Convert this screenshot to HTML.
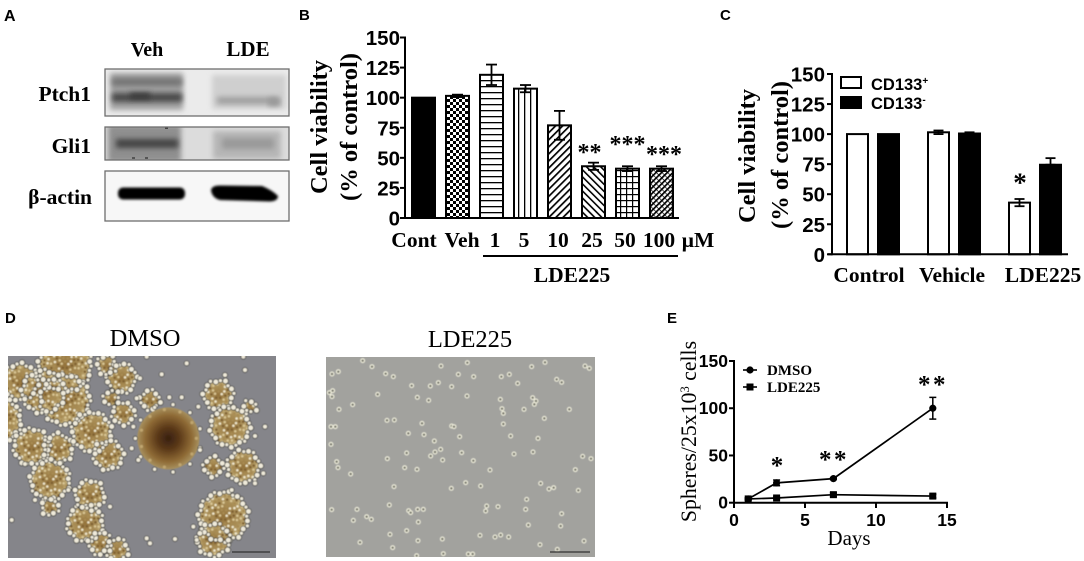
<!DOCTYPE html>
<html lang="en">
<head>
<meta charset="utf-8">
<title>LDE225 figure</title>
<style>
html,body{margin:0;padding:0;background:#fff;width:1084px;height:561px;overflow:hidden}
svg{display:block}
.serif{font-family:"Liberation Serif",serif}
.sans{font-family:"Liberation Sans",sans-serif}
.sb{font-family:"Liberation Serif","Noto Sans CJK SC",serif;font-weight:bold;fill:#000}
.ss{font-family:"Liberation Sans",sans-serif;font-weight:bold;fill:#000}
</style>
</head>
<body>
<svg id="fig" xmlns="http://www.w3.org/2000/svg" width="1084" height="561" viewBox="0 0 1084 561">
<defs>
<filter id="b1" x="-20%" y="-80%" width="140%" height="260%"><feGaussianBlur stdDeviation="2.6"/></filter>
<filter id="b0" x="-20%" y="-80%" width="140%" height="260%"><feGaussianBlur stdDeviation="1.3"/></filter>
<filter id="b3" x="-5%" y="-5%" width="110%" height="110%"><feGaussianBlur stdDeviation="0.4"/></filter>
<clipPath id="c1"><rect x="105" y="69" width="184" height="47"/></clipPath>
<clipPath id="c2"><rect x="105" y="127" width="184" height="33"/></clipPath>
<clipPath id="c3"><rect x="105" y="171" width="184" height="50"/></clipPath>
<clipPath id="cd"><rect x="8" y="356" width="268" height="202"/></clipPath>
<clipPath id="cl"><rect x="326" y="357" width="269" height="200"/></clipPath>
<radialGradient id="gBig"><stop offset="0" stop-color="#38200f"/><stop offset=".35" stop-color="#5a3818"/><stop offset=".75" stop-color="#8e6a35"/><stop offset="1" stop-color="#a8915f"/></radialGradient>
<radialGradient id="gClump"><stop offset="0" stop-color="#94733c"/><stop offset=".7" stop-color="#ab915a"/><stop offset="1" stop-color="#c2ad78"/></radialGradient>
<pattern id="pCheck" width="6" height="6" patternUnits="userSpaceOnUse"><rect width="6" height="6" fill="#fff"/><rect width="3" height="3" fill="#000"/><rect x="3" y="3" width="3" height="3" fill="#000"/></pattern>
<pattern id="pH" width="6" height="6" patternUnits="userSpaceOnUse"><rect width="6" height="6" fill="#fff"/><rect y="2" width="6" height="1.3" fill="#000"/></pattern>
<pattern id="pV" width="6" height="6" patternUnits="userSpaceOnUse"><rect width="6" height="6" fill="#fff"/><rect x="2" width="1.3" height="6" fill="#000"/></pattern>
<pattern id="pD1" width="5" height="5" patternUnits="userSpaceOnUse" patternTransform="rotate(45)"><rect width="5" height="5" fill="#fff"/><rect x="1" width="1.7" height="5" fill="#000"/></pattern>
<pattern id="pD2" width="5" height="5" patternUnits="userSpaceOnUse" patternTransform="rotate(-45)"><rect width="5" height="5" fill="#fff"/><rect x="1" width="1.6" height="5" fill="#000"/></pattern>
<pattern id="pG" width="6" height="6" patternUnits="userSpaceOnUse"><rect width="6" height="6" fill="#fff"/><rect x="2" width="1.2" height="6" fill="#000"/><rect y="2" width="6" height="1.2" fill="#000"/></pattern>
<pattern id="pD3" width="4" height="4" patternUnits="userSpaceOnUse" patternTransform="rotate(45)"><rect width="4" height="4" fill="#fff"/><rect x="1" width="1.7" height="4" fill="#000"/><rect y="1.5" width="4" height="0.7" fill="#000"/></pattern>
</defs>

<rect width="1084" height="561" fill="#fff"/>

<!-- panel letters -->
<text class="ss" x="4" y="21" font-size="16">A</text>
<text class="ss" x="299" y="20" font-size="15">B</text>
<text class="ss" x="720" y="20" font-size="15">C</text>
<text class="ss" x="5" y="323" font-size="15">D</text>
<text class="ss" x="667" y="323" font-size="15">E</text>

<!-- Panel A -->
<g>
<text class="sb" x="147" y="56" font-size="20" text-anchor="middle">Veh</text>
<text class="sb" x="248" y="56" font-size="21" text-anchor="middle">LDE</text>
<text class="sb" x="91" y="101" font-size="21.5" text-anchor="end">Ptch1</text>
<text class="sb" x="91" y="153" font-size="21.5" text-anchor="end">Gli1</text>
<text class="sb" x="92" y="204" font-size="21.5" text-anchor="end">β-actin</text>

<g clip-path="url(#c1)">
<rect x="105" y="69" width="184" height="47" fill="#ebebeb"/>
<rect x="110" y="73" width="73" height="37" fill="#a2a2a2" filter="url(#b1)"/>
<rect x="212" y="75" width="74" height="34" fill="#cfcfcf" filter="url(#b1)"/>
<rect x="112" y="78" width="70" height="8" fill="#757575" filter="url(#b1)"/>
<rect x="112" y="93" width="70" height="9" fill="#4a4a4a" filter="url(#b1)"/>
<rect x="130" y="93" width="20" height="6" fill="#3a3a3a" filter="url(#b1)"/>
<rect x="217" y="97" width="62" height="7" fill="#9e9e9e" filter="url(#b1)"/>
<rect x="268" y="98" width="12" height="8" fill="#999" filter="url(#b1)"/>
</g>
<rect x="105" y="69" width="184" height="47" fill="none" stroke="#6e6e6e" stroke-width="1.3"/>

<g clip-path="url(#c2)">
<rect x="105" y="127" width="184" height="33" fill="#dcdcdc"/>
<rect x="108" y="125" width="73" height="37" fill="#8f8f8f" filter="url(#b1)"/>
<rect x="213" y="131" width="68" height="28" fill="#b6b6b6" filter="url(#b1)"/>
<rect x="116" y="139" width="62" height="9" fill="#444" filter="url(#b1)"/>
<rect x="222" y="138" width="52" height="11" fill="#9a9a9a" filter="url(#b1)"/>
<rect x="165" y="127" width="3" height="2" fill="#444"/>
<rect x="132" y="157" width="3" height="2" fill="#555"/>
<rect x="145" y="157" width="3" height="2" fill="#555"/>
</g>
<rect x="105" y="127" width="184" height="33" fill="none" stroke="#6e6e6e" stroke-width="1.3"/>

<g clip-path="url(#c3)">
<rect x="105" y="171" width="184" height="50" fill="#f7f7f7"/>
<rect x="118" y="187.5" width="67" height="12" rx="5" fill="#000" filter="url(#b0)"/>
<path d="M211 190 Q212 185.5 220 185.5 L262 186 Q272 190 278 196 Q278 201 270 201.5 L220 200 Q212 198 211 190Z" fill="#000" filter="url(#b0)"/>
</g>
<rect x="105" y="171" width="184" height="50" fill="none" stroke="#6e6e6e" stroke-width="1.3"/>
</g>

<!-- Panel B -->
<g id="chartB">
<text class="sb" transform="translate(327,127) rotate(-90)" font-size="24.5" text-anchor="middle">Cell viability</text>
<text class="sb" transform="translate(357,127) rotate(-90)" font-size="24.5" text-anchor="middle">(% of control)</text>
<text class="sb" x="414" y="247" font-size="21.5" text-anchor="middle">Cont</text>
<text class="sb" x="462" y="247" font-size="21.5" text-anchor="middle">Veh</text>
<text class="sb" x="495" y="247" font-size="21.5" text-anchor="middle">1</text>
<text class="sb" x="524" y="247" font-size="21.5" text-anchor="middle">5</text>
<text class="sb" x="558" y="247" font-size="21.5" text-anchor="middle">10</text>
<text class="sb" x="592" y="247" font-size="21.5" text-anchor="middle">25</text>
<text class="sb" x="625" y="247" font-size="21.5" text-anchor="middle">50</text>
<text class="sb" x="659" y="247" font-size="21.5" text-anchor="middle">100</text>
<text class="sb" x="698" y="247" font-size="21.5" text-anchor="middle">μM</text>
<line x1="483" y1="256" x2="678" y2="256" stroke="#000" stroke-width="2"/>
<text class="sb" x="572" y="282" font-size="21.5" text-anchor="middle">LDE225</text>
</g>

<!-- Panel C -->
<g id="chartC">
<text class="sb" transform="translate(755,156) rotate(-90)" font-size="24.5" text-anchor="middle">Cell viability</text>
<text class="sb" transform="translate(788,155) rotate(-90)" font-size="24.5" text-anchor="middle">(% of control)</text>
<text class="sb" x="869" y="282" font-size="21.5" text-anchor="middle">Control</text>
<text class="sb" x="952" y="282" font-size="21.5" text-anchor="middle">Vehicle</text>
<text class="sb" x="1043" y="282" font-size="21.5" text-anchor="middle">LDE225</text>
<g>
<rect x="841" y="77" width="20" height="11" fill="#fff" stroke="#000" stroke-width="2"/>
<text class="ss" x="871" y="90" font-size="16.5">CD133<tspan font-size="10" dy="-6">+</tspan></text>
<rect x="840" y="96" width="22" height="13" fill="#000"/>
<text class="ss" x="871" y="109" font-size="16.5">CD133<tspan font-size="10" dy="-6">-</tspan></text>
</g>
</g>

<!-- Panel D -->
<g>
<text class="serif" x="145" y="346" font-size="24.5" text-anchor="middle" fill="#000">DMSO</text>
<text class="serif" x="470" y="347" font-size="24.5" text-anchor="middle" fill="#000">LDE225</text>
<g clip-path="url(#cd)"><rect x="8" y="356" width="268" height="202" fill="#85858a"/><g id="dmsoCells" filter="url(#b3)"></g>
<line x1="232" y1="552" x2="270" y2="552" stroke="#333" stroke-width="1.2"/></g>
<g clip-path="url(#cl)"><rect x="326" y="357" width="269" height="200" fill="#a2a29e"/><g id="ldeCells" filter="url(#b3)"></g>
<line x1="550" y1="552" x2="590" y2="552" stroke="#333" stroke-width="1.2"/></g>
</g>

<!-- Panel E -->
<g id="chartE">
<text class="serif" transform="translate(696,431.5) rotate(-90)" font-size="21.8" text-anchor="middle" fill="#000">Spheres/25x10<tspan font-size="12.5" dy="-7">3</tspan><tspan dy="7"> cells</tspan></text>
<text class="serif" x="849" y="545" font-size="21" text-anchor="middle" fill="#000">Days</text>
<g>
<line x1="743" y1="370" x2="757" y2="370" stroke="#000" stroke-width="1.6"/>
<circle cx="750" cy="370" r="3.6" fill="#000"/>
<text class="sb" x="767" y="375" font-size="15">DMSO</text>
<line x1="743" y1="387" x2="757" y2="387" stroke="#000" stroke-width="1.6"/>
<rect x="746.5" y="383.5" width="7" height="7" fill="#000"/>
<text class="sb" x="767" y="392" font-size="15">LDE225</text>
</g>
</g>

<script>
// ---- Panel B data ----
const bCategories = ['Cont','Veh','1','5','10','25','50','100'];
const bValues = [100,101.5,119,107.5,77,43,41,41];
const bErrors = [0,1,8.5,3,12,3,2,2];
const bFills = ['#000','url(#pCheck)','url(#pH)','url(#pV)','url(#pD1)','url(#pD2)','url(#pG)','url(#pD3)'];
const bStars = ['','','','','','**','***','***'];
const bTicks = [0,25,50,75,100,125,150];
// ---- Panel C data ----
const cGroups = ['Control','Vehicle','LDE225'];
const cPos = [100,101.5,43];
const cPosErr = [0,1.5,3];
const cNeg = [100,100.5,74.5];
const cNegErr = [0,1,5.5];
const cTicks = [0,25,50,75,100,125,150];
// ---- Panel E data ----
const eDays = [1,3,7,14];
const eDmso = [4,21,25.5,100];
const eDmsoErr = [1,3,1,11.5];
const eLde = [4,5,8.5,7];
const eLdeErr = [1,1,2,2];
const eXTicks = [0,5,10,15];
const eYTicks = [0,50,100,150];

const NS = 'http://www.w3.org/2000/svg';
function mk(parent, tag, props, text){
  const e = document.createElementNS(NS, tag);
  for (const k in props) e.setAttribute(k, props[k]);
  if (text !== undefined) e.textContent = text;
  parent.appendChild(e);
  return e;
}
// axis functions
const yB = v => 218 - v * 180.5 / 150;
const xB = i => 423.5 + i * 34;
const yC = v => 254.3 - v * 180.3 / 150;
const xC = (g, s) => 857.5 + g * 81 + (s ? 31 : 0);
const yE = v => 502.7 - v * 141.7 / 150;
const xE = d => 734 + d * 14.2;

function ln(parent, x1, y1, x2, y2, w){
  return mk(parent, 'line', {x1, y1, x2, y2, stroke:'#000', 'stroke-width':w || 2});
}
function errBar(parent, x, yTop, yBot, cap, w){
  const g = mk(parent, 'g', {});
  
  
  ln(g, x, yTop, x, yBot, w);
  ln(g, x - cap, yTop, x + cap, yTop, w);
  ln(g, x - cap, yBot, x + cap, yBot, w);
}
function stars(parent, x, cy, str, size, gap){
  const t = mk(parent, 'text', {x, y:cy + size * 0.42, 'text-anchor':'middle', 'font-size':size, 'font-weight':'bold', 'letter-spacing':gap, 'font-family':'"Liberation Serif",serif', fill:'#000'}, str);
  
  
}

// Panel B
const B = document.getElementById('chartB');
bCategories.forEach((c, i) => {
  const x = xB(i), top = yB(bValues[i]);
  const r = mk(B, 'rect', {x:x - 11.5, y:top, width:23, height:218 - top, fill:bFills[i], stroke:'#000', 'stroke-width':2});
  
  
  if (bErrors[i]) errBar(B, x, yB(bValues[i] + bErrors[i]), yB(bValues[i] - bErrors[i]), 5.5, 1.8);
});
const bAxis = mk(B, 'g', {});


ln(bAxis, 405, yB(150) - 1, 405, 219);
ln(bAxis, 402, 218, 679, 218);
bTicks.forEach(t => {
  ln(bAxis, 400, yB(t), 405, yB(t));
  const l = mk(bAxis, 'text', {x:400, y:yB(t) + 7.5, 'text-anchor':'end', 'font-size':20.5, class:'ss'}, t);
  
  
});
stars(B, xB(5) - 4, 150, bStars[5], 24, 0);
stars(B, xB(6), 142, bStars[6], 24, 0);
stars(B, xB(7) + 2.5, 152, bStars[7], 24, 0);

// Panel C
const C = document.getElementById('chartC');
cGroups.forEach((g, i) => {
  [0, 1].forEach(s => {
    const val = s ? cNeg[i] : cPos[i], err = s ? cNegErr[i] : cPosErr[i], x = xC(i, s), top = yC(val);
    if (err) errBar(C, x, yC(val + err), yC(val - err * (s ? 0 : 1)), 5, 1.8);
    const r = mk(C, 'rect', {x:x - 10.5, y:top, width:21, height:254.3 - top, fill:s ? '#000' : 'none', stroke:'#000', 'stroke-width':2});
    
    
  });
});
const cAxis = mk(C, 'g', {});


ln(cAxis, 832, yC(150) - 1, 832, 255.3);
ln(cAxis, 828, 254.3, 1068, 254.3);
cTicks.forEach(t => {
  ln(cAxis, 827, yC(t), 832, yC(t));
  const l = mk(cAxis, 'text', {x:825, y:yC(t) + 7.5, 'text-anchor':'end', 'font-size':20.5, class:'ss'}, t);
  
  
});
stars(C, xC(2, 0) + 0.5, 180, '*', 27, 0);

// Panel E
const E = document.getElementById('chartE');
const eAxis = mk(E, 'g', {});


ln(eAxis, 734, yE(150) - 1, 734, 503.7);
ln(eAxis, 734, 502.7, xE(15) + 1, 502.7);
eYTicks.forEach(t => {
  ln(eAxis, 729, yE(t), 734, yE(t));
  const l = mk(eAxis, 'text', {x:728, y:yE(t) + 6, 'text-anchor':'end', 'font-size':17.5, class:'ss'}, t);
  
  
});
eXTicks.forEach(t => {
  ln(eAxis, xE(t), 502.7, xE(t), 508);
  const l = mk(eAxis, 'text', {x:xE(t), y:526, 'text-anchor':'middle', 'font-size':17.5, class:'ss'}, t);
  
  
});
function polyline(values){
  return eDays.map((d, i) => xE(d) + ',' + yE(values[i])).join(' ');
}
const lineD = mk(E, 'polyline', {points:polyline(eDmso), fill:'none', stroke:'#000', 'stroke-width':1.7});


const lineL = mk(E, 'polyline', {points:polyline(eLde), fill:'none', stroke:'#000', 'stroke-width':1.7});


eDays.forEach((d, i) => {
  errBar(E, xE(d), yE(eDmso[i] + eDmsoErr[i]), yE(eDmso[i] - eDmsoErr[i]), 3.5, 1.5);
  const p = mk(E, 'circle', {cx:xE(d), cy:yE(eDmso[i]), r:3.6, fill:'#000'});
  
  
  errBar(E, xE(d), yE(eLde[i] + eLdeErr[i]), yE(eLde[i] - eLdeErr[i]), 3.5, 1.5);
  const q = mk(E, 'rect', {x:xE(d) - 3.5, y:yE(eLde[i]) - 3.5, width:7, height:7, fill:'#000'});
  
  
});
stars(E, 777, 463, '*', 25, 0);
stars(E, 834, 457, '**', 25, 2.5);
stars(E, 933, 382, '**', 25, 2.5);

const clumps = [[195,165,75],[60,215,50],[195,270,70],[130,245,60],[0,330,60],[95,410,50],[175,415,40],[275,365,55],[325,435,40],[150,510,55],[365,205,40],[320,165,25],[370,310,30],[335,265,20],[655,255,40],[690,350,55],[730,470,45],[640,470,25],[670,620,70],[640,690,45],[255,640,50],[270,555,40],[150,590,22],[300,700,30],[350,720,30],[750,290,15],[450,270,25]];
const loose = [[485,193],[735,180],[675,195],[560,160],[795,350],[35,630],[75,462],[105,570],[440,685],[450,700],[525,687],[730,140],[440,140],[420,205],[765,378],[410,265],[508,262],[545,262],[205,540],[595,290],[400,350],[395,415],[415,450],[600,420],[790,490],[765,520],[695,540],[580,650],[590,690],[330,590]];
const dm = document.getElementById('dmsoCells');
const speckleTones = ['#d9c694','#7f6030','#efe7cc','#a88b52'];
const dx = z => z / 3, dy = z => 310 + z / 3;
function bead(x, y, r){
  mk(dm, 'circle', {cx:x, cy:y, r, fill:'#efeada', stroke:'#2f2f2b', 'stroke-width':0.7});
}
clumps.forEach(c => {
  mk(dm, 'circle', {cx:dx(c[0]), cy:dy(c[1]), r:c[2] / 3, fill:'url(#gClump)'});
  const R = c[2] / 3;
  for (let rad = 3.5, idx = 0; rad < R; rad += 3.5) {
    const m = Math.round(6.283 * rad / 4.2);
    for (let k = 0; k < m; k++, idx++) {
      const a = k * 6.283 / m + rad;
      mk(dm, 'circle', {cx:dx(c[0]) + rad * Math.cos(a), cy:dy(c[1]) + rad * Math.sin(a), r:1.25, fill:speckleTones[(idx * 7 + (idx >> 2)) % 4]});
    }
  }
});
clumps.forEach(c => {
  const R = c[2] / 3, n = Math.max(7, Math.round(R * 1.4));
  for (let k = 0; k < n; k++) {
    const a = k * 6.283 / n + c[0], rr = R + (k % 3) * 1.2;
    bead(dx(c[0]) + rr * Math.cos(a), dy(c[1]) + rr * Math.sin(a), 2 + (k % 2) * 0.8);
  }
});
mk(dm, 'circle', {cx:dx(505), cy:dy(385), r:31, fill:'url(#gBig)'});
for (let k = 0; k < 22; k++) {
  const a = k * 6.283 / 22;
  if (k % 2) bead(dx(505) + 33 * Math.cos(a), dy(385) + 34 * Math.sin(a), 2.1);
  else mk(dm, 'circle', {cx:dx(505) + 28 * Math.cos(a), cy:dy(385) + 29 * Math.sin(a), r:1.6, fill:'#c0a670'});
}
loose.forEach(p => bead(dx(p[0]), dy(p[1]), 2.4));

// Photo texture: LDE225 scattered cells
const ldeSpots = [[158,122],[85,155],[66,162],[227,161],[250,170],[186,140],[393,138],[472,128],[445,163],[491,170],[574,170],[598,163],[665,140],[705,127],[825,138],[838,145],[740,178],[755,187],[385,188],[305,197],[361,198],[425,200],[623,190],[68,212],[58,218],[66,230],[203,223],[471,228],[322,232],[356,241],[571,238],[668,233],[678,243],[673,253],[87,268],[128,254],[642,268],[576,266],[580,280],[778,268],[703,295],[231,301],[336,310],[253,300],[63,320],[76,320],[425,318],[432,320],[295,340],[342,344],[449,350],[602,348],[684,355],[580,312],[63,373],[373,363],[392,388],[375,396],[362,408],[398,420],[290,399],[232,416],[455,398],[612,402],[669,396],[818,409],[843,416],[80,425],[84,443],[122,462],[284,443],[321,448],[490,422],[540,450],[796,449],[252,500],[512,498],[424,505],[467,488],[717,507],[731,503],[805,511],[650,538],[692,490],[238,555],[65,569],[141,568],[296,572],[323,568],[340,568],[302,578],[564,560],[530,558],[527,573],[647,568],[130,601],[170,590],[184,598],[755,581],[325,606],[290,632],[240,643],[655,615],[752,618],[510,646],[555,651],[572,645],[596,651],[397,657],[324,662],[150,667],[690,674],[822,663],[400,701],[475,702],[488,702],[320,707],[742,688],[248,683]];
const ld = document.getElementById('ldeCells');
ldeSpots.forEach(p => {
  mk(ld, 'circle', {cx:310 + p[0] / 3, cy:320 + p[1] / 3, r:1.9, fill:'#7d7d72', stroke:'#f3f2df', 'stroke-width':1.1});
});
</script>
</svg>
</body>
</html>
